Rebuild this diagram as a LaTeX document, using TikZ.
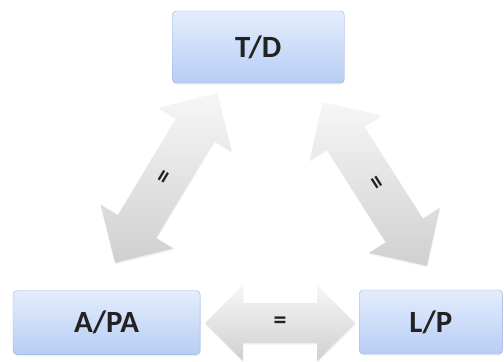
\documentclass[tikz,border=0pt]{standalone}
\usepackage{fontspec}
\setmainfont{Carlito}
\usepackage{tikz}
\usetikzlibrary{shapes.arrows, shadows, positioning}

\definecolor{boxtop}{HTML}{E4EDFD}
\definecolor{boxbot}{HTML}{B7CDF4}
\definecolor{boxline}{HTML}{96B3E2}
\definecolor{arrtop}{HTML}{F6F6F6}
\definecolor{arrbot}{HTML}{D0D0D0}
\definecolor{txt}{HTML}{222222}

\begin{document}
\begin{tikzpicture}[
	ratiobox/.style={
		draw=boxline,rounded corners=4pt,top color=boxtop,bottom color=boxbot,
		minimum height=2.26cm,text=txt,font=\fontsize{31}{36}\selectfont\bfseries,
		drop shadow={opacity=0.12,shadow xshift=0.5pt,shadow yshift=-1.5pt}
	},
	eqarrow/.style={
		double arrow,draw=none,top color=arrtop,bottom color=arrbot,
		double arrow head extend=0.6cm,inner sep=0.45cm,text=txt,
		font=\fontsize{26}{30}\selectfont\bfseries,
		drop shadow={opacity=0.10,shadow xshift=0.5pt,shadow yshift=-1.5pt}
	}
]
	\useasboundingbox (0,0) rectangle (17.78,12.74);

	% the three ratios
	\node[ratiobox,minimum width=6.07cm,minimum height=2.54cm] at (9.11,11.08) (td) {T/D};
	\node[ratiobox,minimum width=6.6cm] at (3.76,1.36) (apa) {A/PA};
	\node[ratiobox,minimum width=5.05cm] at (15.2,1.38) (lp) {L/P};

	% equality arrows between them
	\node[eqarrow,minimum height=5.3cm,minimum width=2.68cm] at (9.88,1.34) (eqb) {=};
	\node[eqarrow,minimum height=6.99cm,minimum width=3cm,rotate=59] at (5.86,6.46) (eql) {=};
	\node[eqarrow,minimum height=6.85cm,minimum width=2.97cm,rotate=-57.5] at (13.22,6.25) (eqr) {=};
\end{tikzpicture}
\end{document}
